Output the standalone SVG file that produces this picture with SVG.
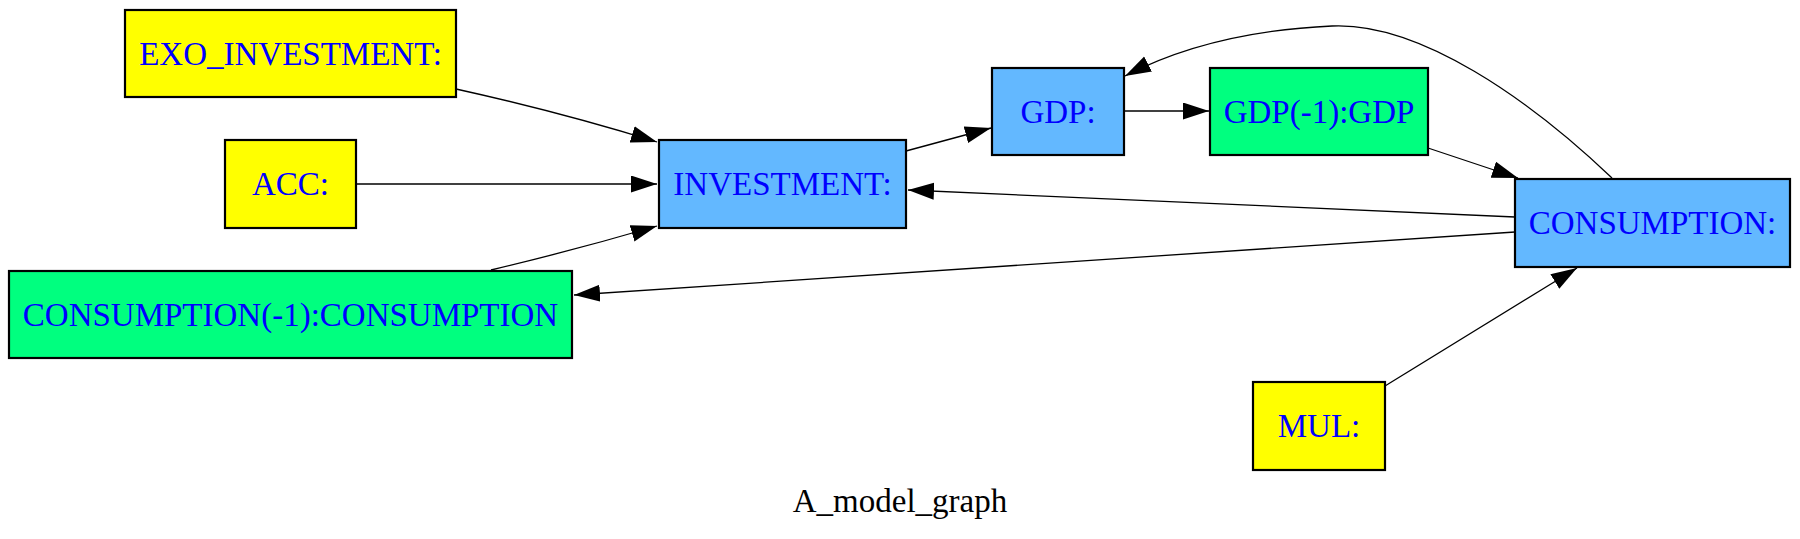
<svg xmlns="http://www.w3.org/2000/svg" width="1800" height="539" viewBox="0 0 1800 539">
<style>
.node rect{stroke:#000;stroke-width:2.2}
.y{fill:#ffff00}.b{fill:#63b8ff}.g{fill:#00ff7f}
.node text{font-family:"Liberation Serif","Times New Roman",serif;font-size:33px;fill:#0000ff;text-anchor:middle}
.edges path{fill:none;stroke:#000;stroke-width:1.3;marker-end:url(#ah)}
.title{font-family:"Liberation Serif","Times New Roman",serif;font-size:33px;fill:#000;text-anchor:middle}
</style>
<defs>
<marker id="ah" markerUnits="userSpaceOnUse" markerWidth="28" markerHeight="18" refX="26" refY="8.5" orient="auto" viewBox="0 0 28 18">
<path d="M0,0 L26,8.5 L0,17 z" fill="#000"/>
</marker>
</defs>
<rect width="1800" height="539" fill="#fff"/>
<g class="edges">
<path id="e1" d="M456,89 Q560,112 657,142"/>
<path id="e2" d="M356,184 L657,184"/>
<path id="e3" d="M491,270 Q575,250 657,226"/>
<path id="e4" d="M906,151 L991,128"/>
<path id="e5" d="M1124,111 L1209,111"/>
<path id="e6" d="M1428,148 L1518,178"/>
<path id="e7" d="M1612,178 C1530,100 1420,22 1332,26 C1244,30 1175,50 1125,76"/>
<path id="e8" d="M1515,217 L908,190"/>
<path id="e9" d="M1515,232 L574,295"/>
<path id="e10" d="M1385,386 L1577,268"/>
</g>
<g id="exo" class="node"><rect class="y" x="125" y="10" width="331" height="87"/><text x="290.5" y="64.5">EXO_INVESTMENT:</text></g>
<g id="acc" class="node"><rect class="y" x="225" y="140" width="131" height="88"/><text x="290.5" y="195">ACC:</text></g>
<g id="cons1" class="node"><rect class="g" x="9" y="271" width="563" height="87"/><text x="290.5" y="325.5">CONSUMPTION(-1):CONSUMPTION</text></g>
<g id="inv" class="node"><rect class="b" x="659" y="140" width="247" height="88"/><text x="782.5" y="195">INVESTMENT:</text></g>
<g id="gdp" class="node"><rect class="b" x="992" y="68" width="132" height="87"/><text x="1058" y="122.5">GDP:</text></g>
<g id="gdp1" class="node"><rect class="g" x="1210" y="68" width="218" height="87"/><text x="1319" y="122.5">GDP(-1):GDP</text></g>
<g id="cons" class="node"><rect class="b" x="1515" y="179" width="275" height="88"/><text x="1652.5" y="234">CONSUMPTION:</text></g>
<g id="mul" class="node"><rect class="y" x="1253" y="382" width="132" height="88"/><text x="1319" y="437">MUL:</text></g>
<text class="title" x="900" y="512">A_model_graph</text>
</svg>
